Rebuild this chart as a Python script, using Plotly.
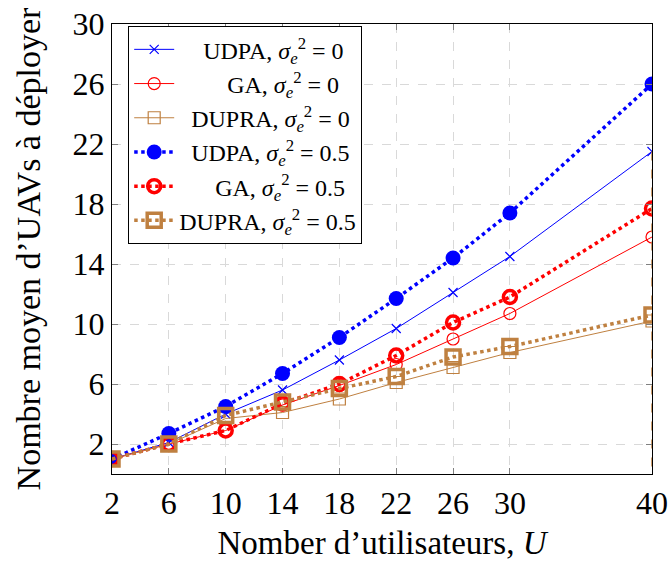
import plotly.graph_objects as go

U = [2, 6, 10, 14, 18, 22, 26, 30, 40]
udpa_0 = [1, 2.1, 4.0, 5.6, 7.6, 9.7, 12.1, 14.5, 21.5]
ga_0 = [1, 2.0, 2.9, 4.6, 5.9, 7.3, 9.0, 10.7, 15.8]
dupra_0 = [1, 2.0, 3.7, 4.1, 5.0, 6.1, 7.1, 8.1, 10.2]
udpa_05 = [1, 2.7, 4.5, 6.7, 9.1, 11.7, 14.4, 17.4, 26.0]
ga_05 = [1, 2.0, 2.9, 4.7, 6.0, 7.9, 10.1, 11.8, 17.7]
dupra_05 = [1, 2.0, 3.9, 4.8, 5.7, 6.5, 7.8, 8.5, 10.6]

x_ticks = [2, 6, 10, 14, 18, 22, 26, 30, 40]
y_ticks = [2, 6, 10, 14, 18, 22, 26, 30]

BLUE = "#0000FF"
RED = "#FF0000"
BROWN = "#BF8040"
FONT = "'Liberation Serif', 'DejaVu Serif', serif"

sig0 = "<i>σ</i><sub><i>e</i></sub><sup>2</sup> = 0"
sig5 = "<i>σ</i><sub><i>e</i></sub><sup>2</sup> = 0.5"

fig = go.Figure()

fig.add_trace(go.Scatter(
    x=U, y=udpa_0, mode="lines+markers", name="    UDPA, " + sig0,
    line=dict(color=BLUE, width=1),
    marker=dict(symbol="x-thin-open", size=9, color=BLUE, line=dict(color=BLUE, width=1.2)),
))
fig.add_trace(go.Scatter(
    x=U, y=ga_0, mode="lines+markers", name="        GA, " + sig0,
    line=dict(color=RED, width=1),
    marker=dict(symbol="circle-open", size=12, color=RED, line=dict(color=RED, width=1.2)),
))
fig.add_trace(go.Scatter(
    x=U, y=dupra_0, mode="lines+markers", name="  DUPRA, " + sig0,
    line=dict(color=BROWN, width=1),
    marker=dict(symbol="square-open", size=12, color=BROWN, line=dict(color=BROWN, width=1.2)),
))
fig.add_trace(go.Scatter(
    x=U, y=udpa_05, mode="lines+markers", name="  UDPA, " + sig5,
    line=dict(color=BLUE, width=3.5, dash="dot"),
    marker=dict(symbol="circle", size=15, color=BLUE),
))
fig.add_trace(go.Scatter(
    x=U, y=ga_05, mode="lines+markers", name="      GA, " + sig5,
    line=dict(color=RED, width=3.5, dash="dot"),
    marker=dict(symbol="circle-open", size=13, color=RED, line=dict(color=RED, width=3.5)),
))
fig.add_trace(go.Scatter(
    x=U, y=dupra_05, mode="lines+markers", name="DUPRA, " + sig5,
    line=dict(color=BROWN, width=3.5, dash="dot"),
    marker=dict(symbol="square-open", size=14, color=BROWN, line=dict(color=BROWN, width=3.5)),
))
# vertical dashed segment at the last abscissa (as in the reference)
fig.add_trace(go.Scatter(
    x=[U[-1], U[-1]], y=[udpa_0[-1], 0], mode="lines", showlegend=False,
    line=dict(color=BROWN, width=1.5, dash="dash"), hoverinfo="skip",
))

axis_common = dict(
    showline=True, linecolor="black", linewidth=1.2, mirror="allticks",
    ticks="inside", ticklen=6, tickcolor="#808080", tickwidth=1.2,
    showgrid=True, gridcolor="#D9D9D9", griddash="dash", gridwidth=1.2,
    zeroline=False, automargin=False,
    tickfont=dict(family=FONT, size=32, color="black"),
)

fig.update_layout(
    width=668, height=562,
    margin=dict(l=112, r=16, t=24, b=88),
    paper_bgcolor="white", plot_bgcolor="white",
    font=dict(family=FONT, color="black"),
    xaxis=dict(range=[2, 40], tickvals=x_ticks, ticktext=[str(v) for v in x_ticks],
               title=dict(text="Nomber d’utilisateurs, <i>U</i>", font=dict(family=FONT, size=33), standoff=11),
               **axis_common),
    yaxis=dict(range=[0, 30], tickvals=y_ticks, ticktext=[str(v) for v in y_ticks],
               title=dict(text="Nombre moyen d’UAVs à déployer", font=dict(family=FONT, size=34), standoff=21),
               **axis_common),
    legend=dict(x=0.03, y=0.995, xanchor="left", yanchor="top",
                bgcolor="white", bordercolor="black", borderwidth=1,
                font=dict(family=FONT, size=24), tracegroupgap=0, itemwidth=40),
    showlegend=True,
)

fig.write_html("out.html")
